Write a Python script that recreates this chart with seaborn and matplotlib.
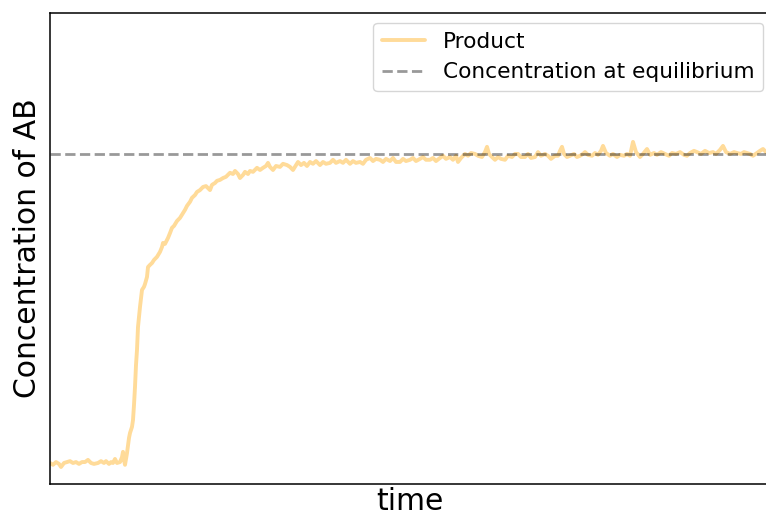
import numpy as np
import pandas as pd
import matplotlib
matplotlib.use("Agg")
import matplotlib.pyplot as plt
import seaborn as sns

# (time, concentration) readings; equilibrium concentration = 1.0
baseline = [(0.0, 0.000), (0.6, -0.006), (1.2, 0.003), (1.8, -0.003), (2.2, -0.013), (2.8, 0.000),
            (3.4, 0.003), (4.0, 0.006), (4.6, 0.000), (5.2, 0.003), (5.8, -0.003), (6.4, 0.003),
            (7.0, 0.003), (7.6, 0.010), (8.2, 0.000), (8.8, -0.003), (9.6, 0.000), (10.2, 0.006),
            (10.8, 0.000), (11.2, 0.006), (11.8, -0.003), (12.2, 0.003), (12.6, 0.000), (13.0, 0.013),
            (13.4, 0.000), (14.0, 0.003), (14.4, 0.019), (14.6, 0.036), (14.8, 0.010), (15.0, -0.006)]
rise = [(15.4, 0.032), (15.8, 0.081), (16.0, 0.097), (16.2, 0.107), (16.4, 0.117), (16.6, 0.139),
        (16.8, 0.188), (17.0, 0.246), (17.2, 0.317), (17.4, 0.366), (17.6, 0.440), (18.0, 0.505),
        (18.4, 0.560), (18.8, 0.570), (19.0, 0.579), (19.4, 0.602), (19.6, 0.634), (20.0, 0.641),
        (20.4, 0.647), (20.8, 0.657), (21.4, 0.667), (22.0, 0.683), (22.4, 0.699), (22.6, 0.712),
        (23.0, 0.709), (23.6, 0.728), (24.0, 0.744), (24.4, 0.761), (24.8, 0.767), (25.4, 0.783),
        (26.0, 0.793), (26.6, 0.809), (27.0, 0.819), (27.4, 0.832), (28.0, 0.845), (28.4, 0.858),
        (29.0, 0.867), (29.4, 0.877), (30.0, 0.883), (30.6, 0.893), (31.2, 0.896), (32.0, 0.883),
        (32.4, 0.900), (33.0, 0.906), (33.4, 0.913), (34.0, 0.916), (34.6, 0.922), (35.2, 0.926),
        (36.0, 0.939), (36.6, 0.935), (37.0, 0.945), (37.6, 0.935), (38.0, 0.922), (38.6, 0.932),
        (39.0, 0.942), (39.6, 0.935), (40.0, 0.945), (40.6, 0.942), (41.4, 0.955), (42.0, 0.948),
        (42.6, 0.955), (43.2, 0.961), (43.6, 0.971), (44.0, 0.958), (44.6, 0.948), (45.2, 0.961),
        (46.0, 0.958), (46.6, 0.968), (47.4, 0.964), (48.0, 0.958), (48.6, 0.948), (49.2, 0.964),
        (49.6, 0.974)]
approach = [(50.2, 0.964), (50.8, 0.971), (51.4, 0.961), (52.0, 0.974), (52.6, 0.968), (53.2, 0.977),
            (54.0, 0.964), (54.6, 0.974), (55.2, 0.968), (56.0, 0.971), (56.6, 0.981), (57.2, 0.971),
            (58.0, 0.977), (58.6, 0.971), (59.2, 0.981), (60.0, 0.968), (60.6, 0.977), (61.2, 0.971),
            (62.0, 0.974), (62.6, 0.968), (63.2, 0.981), (64.0, 0.987), (64.6, 0.977), (65.2, 0.984),
            (66.0, 0.981), (66.6, 0.974), (67.2, 0.984), (68.0, 0.977), (68.6, 0.987), (69.2, 0.974),
            (70.0, 0.974), (70.6, 0.984), (71.2, 0.977), (72.0, 0.981), (72.6, 0.987), (73.2, 0.977),
            (74.0, 0.984), (74.6, 0.990), (75.2, 0.981), (76.0, 0.981), (76.6, 0.987), (77.2, 0.977),
            (78.0, 0.987), (78.6, 0.994), (79.2, 0.984), (80.0, 0.990), (80.6, 0.981), (81.2, 0.994),
            (81.6, 0.974), (82.2, 0.987)]
plateau = [(83.0, 1.000), (83.6, 0.994), (84.2, 1.003), (85.0, 1.000), (85.6, 0.994), (86.4, 0.990),
           (87.0, 1.006), (87.4, 1.023), (87.8, 1.000), (88.4, 0.990), (89.0, 0.981), (89.6, 0.990),
           (90.2, 0.984), (91.0, 0.981), (91.6, 0.994), (92.4, 0.990), (93.0, 1.000), (93.6, 1.000),
           (94.2, 0.990), (95.0, 0.990), (95.6, 1.000), (96.2, 0.987), (97.0, 0.990), (97.6, 1.006),
           (98.2, 0.994), (99.0, 1.000), (99.6, 0.994), (100.2, 0.984), (101.0, 0.994), (101.6, 0.994),
           (102.0, 1.010), (102.4, 1.023), (102.8, 1.000), (103.4, 0.990), (104.0, 0.994), (104.8, 1.000),
           (105.4, 0.990), (106.0, 0.994), (106.6, 1.000), (107.0, 1.006), (107.6, 0.997), (108.4, 0.994),
           (109.0, 1.003), (109.6, 0.997), (110.2, 1.010), (110.6, 1.026), (111.2, 1.003), (112.0, 0.994),
           (112.6, 1.000), (113.4, 0.990), (114.0, 0.997), (114.8, 0.994), (115.4, 1.000), (116.0, 0.994),
           (116.6, 1.039), (117.2, 1.006), (118.0, 0.990), (118.6, 1.000), (119.4, 1.016), (120.0, 0.997),
           (120.8, 1.003), (121.4, 0.997), (122.2, 1.006), (123.0, 1.000), (123.8, 0.994), (124.4, 1.003),
           (125.2, 1.000), (126.0, 1.006), (126.8, 0.997), (127.4, 0.994), (128.0, 1.003), (128.8, 1.010),
           (129.4, 1.006), (130.2, 1.000), (131.0, 1.010), (131.8, 1.003), (132.6, 1.006), (133.2, 1.000),
           (134.0, 1.013), (134.6, 1.026), (135.2, 1.006), (136.0, 1.000), (136.8, 1.006), (137.4, 1.003),
           (138.2, 1.000), (138.8, 1.006), (139.4, 1.003), (140.0, 1.000), (140.6, 0.994), (141.4, 1.003),
           (142.0, 1.010), (142.6, 1.016), (143.2, 1.006), (144.0, 1.003)]

equilibrium = 1.0
labels = ["Product", "Concentration at equilibrium"]
x_label = "time"
y_label = "Concentration of AB"

df = pd.DataFrame(baseline + rise + approach + plateau, columns=["time", "conc"])

sns.set_style("white")
plt.rcParams["font.family"] = ["DejaVu Sans"]
plt.rcParams["text.color"] = "black"
plt.rcParams["axes.labelcolor"] = "black"

fig = plt.figure(figsize=(7.66, 5.17), dpi=100)
ax = fig.add_axes([50 / 766, 33 / 517, 720 / 766, 471 / 517])

sns.lineplot(data=df, x="time", y="conc", ax=ax, color="orange", alpha=0.4,
             linewidth=2.8, label=labels[0], sort=False)
ax.axhline(equilibrium, color="k", alpha=0.4, linestyle="--", linewidth=2, label=labels[1])

ax.set_xlim(df["time"].min(), df["time"].max())
ax.set_ylim(-0.068, 1.456)
ax.set_xticks([])
ax.set_yticks([])
ax.set_xlabel(x_label, fontsize=21.5, labelpad=2)
ax.set_ylabel(y_label, fontsize=21.5, labelpad=6)
for s in ax.spines.values():
    s.set_color("black")
    s.set_linewidth(1.1)

leg = ax.legend(loc="upper right", fontsize=15.6, frameon=True,
                bbox_to_anchor=((763 - 50) / 720, (484 - 23) / 471), borderaxespad=0)
for t in leg.get_texts():
    t.set_color("black")

fig.savefig("out.png", dpi=100)
